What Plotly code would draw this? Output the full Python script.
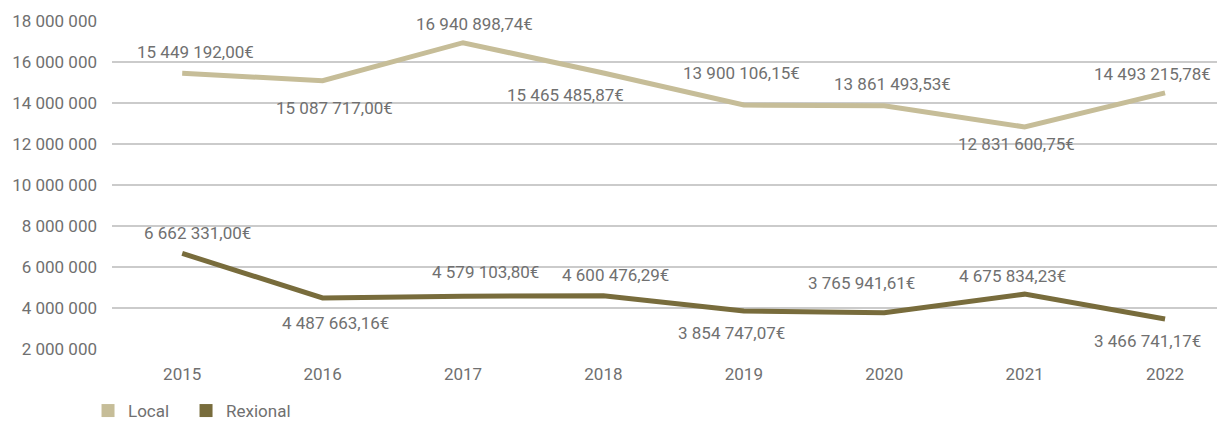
import plotly.graph_objects as go

# Yearly amounts (EUR)
years = ["2015", "2016", "2017", "2018", "2019", "2020", "2021", "2022"]
local = [15449192.00, 15087717.00, 16940898.74, 15465485.87,
         13900106.15, 13861493.53, 12831600.75, 14493215.78]
rexional = [6662331.00, 4487663.16, 4579103.80, 4600476.29,
            3854747.07, 3765941.61, 4675834.23, 3466741.17]
y_ticks = [2000000, 4000000, 6000000, 8000000, 10000000,
           12000000, 14000000, 16000000, 18000000]

# Value-label placement (pixel shifts: dy > 0 moves the label up)
local_dx = [13, 12, 11, -38, -2, 8, -8, -13]
local_dy = [21, -27, 19, -22, 32, 22, -17, 19]
rex_dx = [15, 13, 22, 12, -12, -23, -12, -18]
rex_dy = [20, -25, 24, 21, -22, 30, 18, -22]

LOCAL_COLOR = "#c6bd98"
REX_COLOR = "#786c3c"
TEXT_COLOR = "#707070"
FONT = "Roboto, 'Noto Sans', sans-serif"


def euro(v):
    s = f"{v:,.2f}"
    return s.replace(",", " ").replace(".", ",") + "€"


fig = go.Figure()

series = [("Local", local, LOCAL_COLOR, "legend"),
          ("Rexional", rexional, REX_COLOR, "legend2")]
for name, vals, color, leg in series:
    fig.add_trace(go.Scatter(
        x=years, y=vals, mode="lines", name=name,
        line=dict(color=color, width=5),
        showlegend=False, cliponaxis=False, hoverinfo="skip",
    ))
    # square legend key
    fig.add_trace(go.Scatter(
        x=[None], y=[None], mode="markers", name=name, legend=leg,
        marker=dict(symbol="square", size=13, color=color),
    ))

annotations = []
for vals, dxs, dys in [(local, local_dx, local_dy), (rexional, rex_dx, rex_dy)]:
    for i, (v, dx, dy) in enumerate(zip(vals, dxs, dys)):
        annotations.append(dict(
            x=i, y=v, xref="x", yref="y", text=euro(v), showarrow=False,
            xshift=dx, yshift=dy,
            font=dict(family=FONT, size=17, color=TEXT_COLOR),
        ))

legend_style = dict(
    orientation="h", y=0, xanchor="left", yanchor="bottom",
    xref="paper", yref="container",
    font=dict(family=FONT, size=17, color=TEXT_COLOR),
    itemwidth=30, bgcolor="rgba(0,0,0,0)",
)

fig.update_layout(
    width=1217, height=429,
    margin=dict(l=112, r=0, t=21, b=80),
    paper_bgcolor="white", plot_bgcolor="white",
    separators=", ",
    font=dict(family=FONT, size=17, color=TEXT_COLOR),
    annotations=annotations,
    showlegend=True,
    legend=dict(x=-0.0217, **legend_style),
    legend2=dict(x=0.067, **legend_style),
    xaxis=dict(
        type="category", range=[-0.5, 7.37],
        showgrid=False, showline=False, zeroline=False,
        ticks="", ticklabelstandoff=13,
        tickfont=dict(family=FONT, size=17, color=TEXT_COLOR),
    ),
    yaxis=dict(
        range=[2000000, 18000000], tickvals=y_ticks, tickformat=",d",
        showgrid=True, gridcolor="#cbcbcb", gridwidth=1.5,
        showline=False, zeroline=False,
        ticks="", ticklabelstandoff=14,
        tickfont=dict(family=FONT, size=17, color=TEXT_COLOR),
    ),
)

fig.write_html("out.html")
